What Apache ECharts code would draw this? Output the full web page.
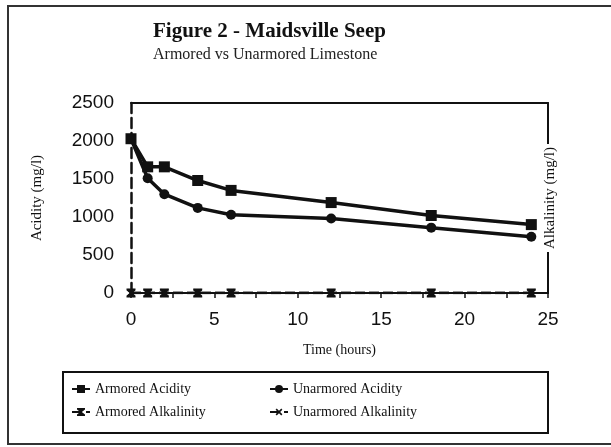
<!DOCTYPE html>
<html>
<head>
<meta charset="utf-8">
<script src="https://cdn.jsdelivr.net/npm/echarts@6/dist/echarts.min.js"></script>
<style>html,body{margin:0;padding:0;background:#fff;}#c{width:611px;height:447px;}</style>
</head>
<body>
<div id="c"></div>
<script>
const hours = [0, 1, 2, 4, 6, 12, 18, 24];
const armoredAcidity = [2030, 1660, 1660, 1480, 1350, 1190, 1020, 900];
const unarmoredAcidity = [2030, 1510, 1300, 1120, 1030, 980, 860, 740];
const armoredAlkalinity = [0, 0, 0, 0, 0, 0, 0, 0];
const unarmoredAlkalinity = [0, 0, 0, 0, 0, 0, 0, 0];
const seriesNames = ['Armored Acidity', 'Unarmored Acidity', 'Armored Alkalinity', 'Unarmored Alkalinity'];
const yTicks = [0, 500, 1000, 1500, 2000, 2500];
const xTicks = [0, 5, 10, 15, 20, 25];

const pairs = (vals) => hours.map((h, i) => [h, vals[i]]);
const serif = 'Liberation Serif';
const sans = 'Liberation Sans';
const hourglass = 'path://M0,0 L10,0 L10,2 L6,5 L10,8 L10,10 L0,10 L0,8 L4,5 L0,2 Z';
const star = 'path://M4,0 L6,0 L6,4 L10,4 L10,6 L6,6 L6,10 L4,10 L4,6 L0,6 L0,4 L4,4 Z';

const chart = echarts.init(document.getElementById('c'), null, {renderer: 'canvas'});
const lineStyle = {color: '#111', width: 3.5};
const legendText = {fontFamily: serif, fontSize: 14, color: '#111'};
chart.setOption({
  animation: false,
  backgroundColor: '#fff',
  title: {
    text: 'Figure 2 - Maidsville Seep',
    subtext: 'Armored vs Unarmored Limestone',
    left: 148, top: 16, itemGap: 5,
    textStyle: {fontFamily: serif, fontWeight: 'bold', fontSize: 21, color: '#111'},
    subtextStyle: {fontFamily: serif, fontSize: 16, color: '#222'}
  },
  grid: {left: 131, right: 63, top: 103, bottom: 154},
  legend: [
    {data: [seriesNames[0], seriesNames[2]], orient: 'vertical', left: 66, top: 377, itemGap: 9,
     itemWidth: 18, itemHeight: 10, textStyle: legendText},
    {data: [seriesNames[1], seriesNames[3]], orient: 'vertical', left: 264, top: 377, itemGap: 9,
     itemWidth: 18, itemHeight: 10, textStyle: legendText}
  ],
  xAxis: [
    {type: 'value', min: 0, max: 25, interval: 5, position: 'bottom',
     name: 'Time (hours)', nameLocation: 'middle', nameGap: 50,
     nameTextStyle: {fontFamily: serif, fontSize: 14, color: '#111'},
     axisLine: {onZero: false, lineStyle: {color: '#111', width: 2}},
     axisTick: {show: true, length: 5, lineStyle: {color: '#111', width: 1.5}},
     minorTick: {show: true, splitNumber: 2, length: 5, lineStyle: {color: '#111', width: 1.5}},
     splitLine: {show: false},
     axisLabel: {margin: 17, fontFamily: sans, fontSize: 19, color: '#111',
       formatter: (v) => xTicks.includes(v) ? String(v) : ''}},
    {type: 'value', min: 0, max: 25, interval: 5, position: 'top',
     axisLine: {onZero: false, lineStyle: {color: '#111', width: 2}},
     axisTick: {show: false}, axisLabel: {show: false}, splitLine: {show: false}}
  ],
  yAxis: [
    {type: 'value', min: 0, max: 2500, interval: 500, position: 'left',
     name: 'Acidity (mg/l)', nameLocation: 'middle', nameGap: 86, nameRotate: 90,
     nameTextStyle: {fontFamily: serif, fontSize: 15, color: '#111'},
     axisLine: {show: true, onZero: false, lineStyle: {color: '#111', width: 2.5, type: 'dashed', dashOffset: 0}},
     axisTick: {show: false}, splitLine: {show: false},
     axisLabel: {margin: 17, fontFamily: sans, fontSize: 19, color: '#111',
       formatter: (v) => yTicks.includes(v) ? String(v) : ''}},
    {type: 'value', min: 0, max: 2500, interval: 500, position: 'right',
     axisLine: {show: true, onZero: false, lineStyle: {color: '#111', width: 2}},
     axisTick: {show: false}, axisLabel: {show: false}, splitLine: {show: false}}
  ],
  series: [
    {name: seriesNames[0], type: 'line', data: pairs(armoredAcidity), symbol: 'rect', symbolSize: 11,
     lineStyle: lineStyle, itemStyle: {color: '#111'}, z: 5},
    {name: seriesNames[1], type: 'line', data: pairs(unarmoredAcidity), symbol: 'circle', symbolSize: 10,
     lineStyle: lineStyle, itemStyle: {color: '#111'}, z: 5},
    {name: seriesNames[2], type: 'line', yAxisIndex: 1, data: pairs(armoredAlkalinity), symbol: hourglass, symbolSize: 9,
     lineStyle: {color: '#111', width: 2.5, type: [10, 4]}, itemStyle: {color: '#111'}, z: 4},
    {name: seriesNames[3], type: 'line', yAxisIndex: 1, data: pairs(unarmoredAlkalinity), symbol: star, symbolSize: 10,
     symbolRotate: 45, lineStyle: {color: '#111', width: 2.5, type: [10, 4]}, itemStyle: {color: '#111'}, z: 4}
  ],
  graphic: [
    {type: 'text', x: 550, y: 198, rotation: Math.PI / 2, z: 10,
     style: {text: 'Alkalinity (mg/l)', font: '15px "Liberation Serif"', fill: '#111',
       align: 'center', verticalAlign: 'middle', backgroundColor: '#fff', padding: [2, 3]}},
    {type: 'rect', shape: {x: 63, y: 372, width: 485, height: 61}, z: 1,
     style: {fill: 'none', stroke: '#111', lineWidth: 2}},
    {type: 'polyline', shape: {points: [[611, 6], [8, 6], [8, 444], [611, 444]]},
     style: {fill: 'none', stroke: '#333', lineWidth: 2}}
  ]
});
</script>
</body>
</html>
